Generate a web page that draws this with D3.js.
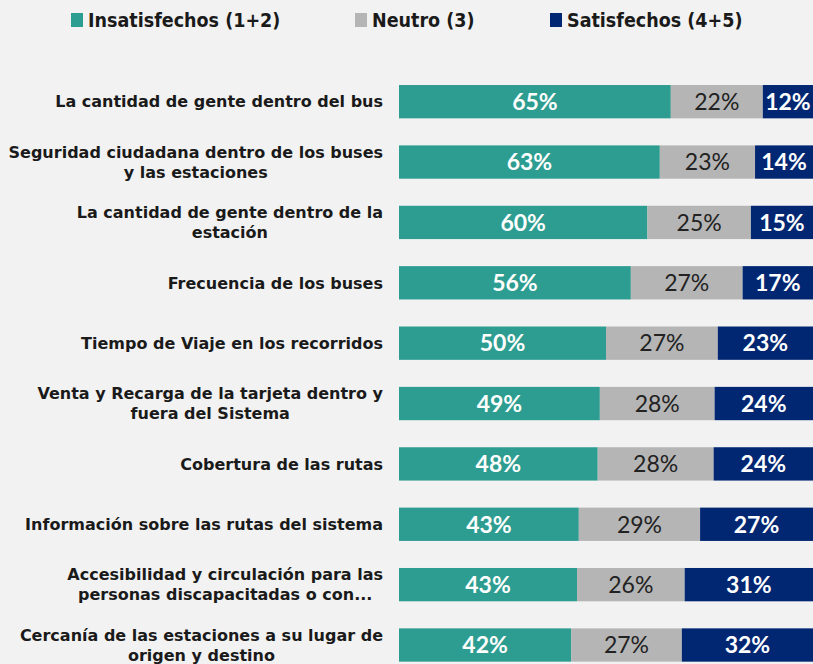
<!DOCTYPE html>
<html>
<head>
<meta charset="utf-8">
<script src="https://cdn.jsdelivr.net/npm/d3@7"></script>
<style>
  html, body { margin: 0; padding: 0; background: #f2f2f2; }
  svg { display: block; font-family: Lato, "Open Sans", sans-serif; }
</style>
</head>
<body>
<svg id="chart" width="813" height="664"></svg>
<script>
// categories (line breaks as in the original labels)
const categories = [
  "La cantidad de gente dentro del bus",
  "Seguridad ciudadana dentro de los buses\ny las estaciones",
  "La cantidad de gente dentro de la\nestación",
  "Frecuencia de los buses",
  "Tiempo de Viaje en los recorridos",
  "Venta y Recarga de la tarjeta dentro y\nfuera del Sistema",
  "Cobertura de las rutas",
  "Información sobre las rutas del sistema",
  "Accesibilidad y circulación para las\npersonas discapacitadas o con...",
  "Cercanía de las estaciones a su lugar de\norigen y destino"
];
const insatisfechos = [65, 63, 60, 56, 50, 49, 48, 43, 43, 42];
const neutro = [22, 23, 25, 27, 27, 28, 28, 29, 26, 27];
const satisfechos = [12, 14, 15, 17, 23, 24, 24, 27, 31, 32];

const seriesKeys = ["ins", "neu", "sat"];
const seriesNames = ["Insatisfechos (1+2)", "Neutro (3)", "Satisfechos (4+5)"];
const seriesColors = ["#2e9d91", "#b5b5b5", "#012672"];
const labelColors = ["#ffffff", "#222222", "#ffffff"];
const labelWeights = ["bold", "normal", "bold"];

const rows = categories.map((c, i) => ({
  cat: c, ins: insatisfechos[i], neu: neutro[i], sat: satisfechos[i]
}));

const svg = d3.select("#chart");

const x = d3.scaleLinear().domain([0, 1]).range([399, 813]);
const y = d3.scaleBand()
  .domain(categories)
  .range([71.5, 675.2])
  .paddingInner(0.448)
  .paddingOuter(0.224);

// normalized stack, every bar fills 100%
const stacked = d3.stack().keys(seriesKeys).offset(d3.stackOffsetExpand)(rows);

const layers = svg.selectAll("g.layer")
  .data(stacked)
  .enter()
  .append("g")
  .classed("layer", true)
  .attr("fill", (d, i) => seriesColors[i]);

layers.selectAll("rect")
  .data(d => d)
  .enter()
  .append("rect")
  .attr("x", d => x(d[0]))
  .attr("y", d => y(d.data.cat))
  .attr("width", d => x(d[1]) - x(d[0]))
  .attr("height", y.bandwidth());

// value labels
stacked.forEach((layer, li) => {
  svg.append("g")
    .selectAll("text")
    .data(layer)
    .enter()
    .append("text")
    .attr("x", d => (x(d[0]) + x(d[1])) / 2)
    .attr("y", d => y(d.data.cat) + y.bandwidth() / 2)
    .attr("dy", "0.36em")
    .attr("text-anchor", "middle")
    .attr("font-size", 23)
    .attr("font-weight", labelWeights[li])
    .attr("fill", labelColors[li])
    .text(d => d.data[layer.key] + "%");
});

// category labels, multi-line ones centered as a block ending at the right edge
const labelRight = 383;
const catLabels = svg.append("g")
  .selectAll("text")
  .data(categories)
  .enter()
  .append("text")
  .attr("font-family", "'DejaVu Sans', sans-serif")
  .attr("font-size", 16)
  .attr("font-weight", "bold")
  .attr("fill", "#1a1a1a");

catLabels.each(function (d) {
  const lines = d.split("\n");
  const t = d3.select(this);
  const cy = y(d) + y.bandwidth() / 2;
  const spans = lines.map((ln, i) => t.append("tspan")
    .attr("y", cy + (i - (lines.length - 1) / 2) * 20)
    .attr("dy", "0.36em")
    .text(ln));
  const maxW = d3.max(spans, s => s.node().getComputedTextLength());
  t.attr("text-anchor", "middle");
  spans.forEach(s => s.attr("x", labelRight - maxW / 2));
});

// legend
const legendX = [71, 355, 550];
const legend = svg.append("g")
  .selectAll("g")
  .data(seriesNames)
  .enter()
  .append("g")
  .attr("transform", (d, i) => "translate(" + legendX[i] + ",0)");

legend.append("rect")
  .attr("y", 13)
  .attr("width", 12)
  .attr("height", 14)
  .attr("fill", (d, i) => seriesColors[i]);

legend.append("text")
  .attr("x", 17)
  .attr("y", 27)
  .attr("font-family", "'DejaVu Sans Condensed', 'DejaVu Sans', sans-serif")
  .attr("font-size", 19.5)
  .attr("font-weight", "bold")
  .attr("fill", "#1a1a1a")
  .text(d => d);
</script>
</body>
</html>
